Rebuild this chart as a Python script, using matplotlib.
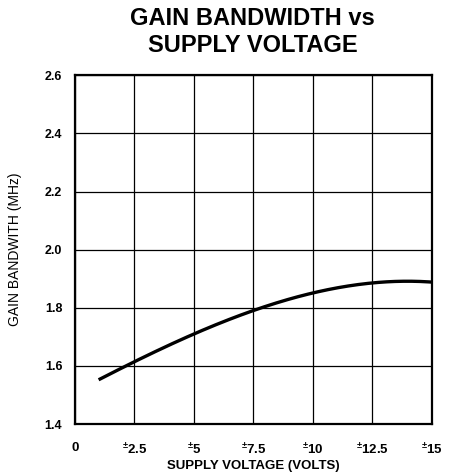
import matplotlib
matplotlib.use('Agg')
import matplotlib.pyplot as plt
import numpy as np

plt.rcParams['font.family'] = ['Liberation Sans', 'DejaVu Sans']
plt.rcParams['mathtext.fontset'] = 'custom'
plt.rcParams['mathtext.rm'] = 'Liberation Sans:bold'

# curve
supply_v = [1.0, 2.5, 5.0, 7.5, 10.0, 12.5, 14.0, 15.0]
gain_bw = [1.555, 1.61, 1.71, 1.796, 1.847, 1.885, 1.893, 1.888]

x_ticks = [0, 2.5, 5, 7.5, 10, 12.5, 15]
x_labels = ['0', r'$^{\pm}$2.5', r'$^{\pm}$5', r'$^{\pm}$7.5', r'$^{\pm}$10', r'$^{\pm}$12.5', r'$^{\pm}$15']
y_ticks = [1.4, 1.6, 1.8, 2.0, 2.2, 2.4, 2.6]

# smooth through the read points
xs = np.linspace(supply_v[0], supply_v[-1], 200)
coef = np.polyfit(supply_v, gain_bw, 3)
ys = np.polyval(coef, xs)

fig = plt.figure(figsize=(4.59, 4.76), dpi=100)
ax = fig.add_axes([0.163, 0.109, 0.778, 0.733])

ax.plot(xs, ys, color='black', lw=2.4, solid_capstyle='butt')

ax.set_xlim(0, 15)
ax.set_ylim(1.4, 2.6)
ax.set_xticks(x_ticks)
ax.set_xticklabels(x_labels)
ax.set_yticks(y_ticks)
ax.set_yticklabels(['%.1f' % v for v in y_ticks])
ax.grid(True, color='black', lw=0.9)
ax.tick_params(axis='y', length=0, pad=9, labelsize=9)
ax.tick_params(axis='x', length=0, pad=13, labelsize=9.5)
for lab in ax.get_xticklabels() + ax.get_yticklabels():
    lab.set_fontweight('bold')
for s in ax.spines.values():
    s.set_linewidth(1.6)

ax.set_xlabel('SUPPLY VOLTAGE (VOLTS)', fontsize=9.5, fontweight='bold', labelpad=2)
ax.set_ylabel('GAIN BANDWITH (MHz)', fontsize=10, labelpad=16)

fig.text(0.55, 0.985, 'GAIN BANDWIDTH vs\nSUPPLY VOLTAGE', ha='center', va='top',
         fontsize=17, fontweight='bold', linespacing=1.2)

fig.savefig('out.png', dpi=100)
